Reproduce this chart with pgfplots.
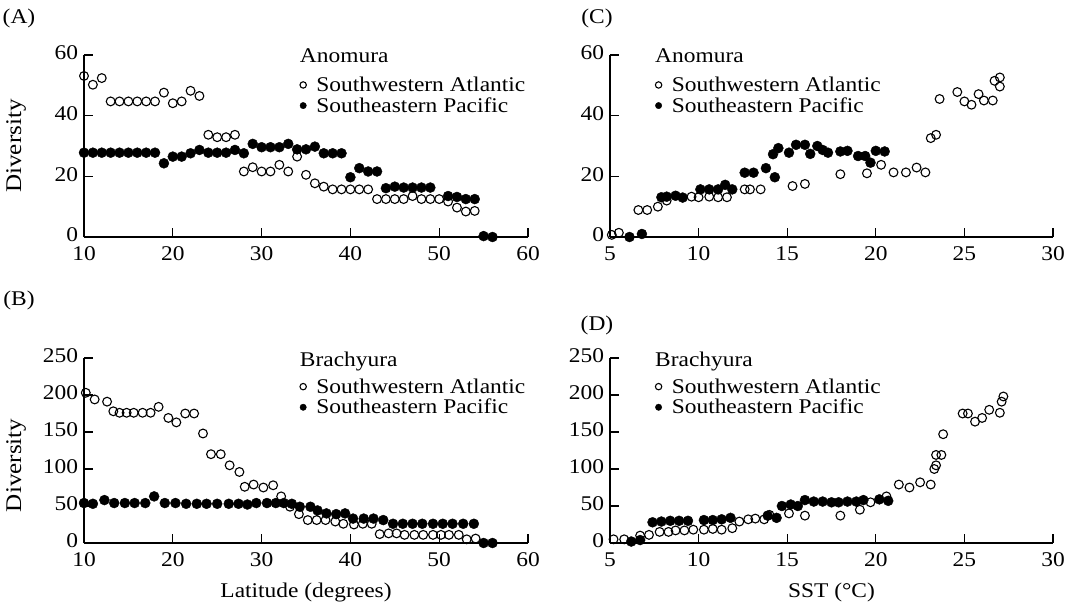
\documentclass[border=0pt]{standalone}
\usepackage{fontspec}
\setmainfont{Liberation Serif}[FakeStretch=1.12]
\usepackage{pgfplots}
\pgfplotsset{compat=1.18}
\newcommand{\fs}{\fontsize{21}{24}\selectfont}
\newcommand{\fl}{\fontsize{22.5}{26}\selectfont}
\pgfplotsset{
 myaxis/.style={
  scale only axis, anchor=south west,
  axis lines=left, axis line style={-, line width=1.1bp},
  tick align=inside, major tick length=9bp, tick style={line width=1.1bp, black},
  clip=false, font=\fs,
  /pgf/number format/assume math mode=true,
  tick label style={font=\fs},
  xticklabel style={yshift=-6bp},
  yticklabel style={xshift=-2.5bp, yshift=2bp},
  ylabel style={at={(axis description cs:-0.153,0.5)}, anchor=center, font=\fl},
  legend cell align=left,
  legend style={draw=none, fill=none, anchor=north west, font=\fs, row sep=2.5bp,
     inner sep=0pt, nodes={inner sep=1bp},
     /tikz/every odd column/.append style={column sep=9bp}},
  legend image code/.code={\draw[##1, mark size=3.2bp] plot coordinates {(0bp,0bp)};},
 },
 openmk/.style={only marks, mark=o, mark size=4.4bp, mark options={line width=1.1bp, draw=black}},
 fillmk/.style={only marks, mark=*, mark size=5bp, mark options={draw=black, fill=black}},
}
\begin{document}
\begin{tikzpicture}
\path[use as bounding box] (0,0) rectangle (1070bp,-606bp);
% (A)
\begin{axis}[myaxis, at={(84bp,-237bp)}, width=444bp, height=182bp,
  xmin=10, xmax=60, ymin=0, ymax=60, xtick={10,20,...,60}, ytick={0,20,40,60},
  ylabel={Diversity},
  legend style={at={(rel axis cs:0.486,0.886)}}]
\addplot[openmk] coordinates {(10,53.1)(11,50.2)(12,52.4)(13,44.7)(14,44.7)(15,44.7)(16,44.7)(17,44.7)(18,44.7)(19,47.6)(20,44.1)(21,44.7)(22,48.2)(23,46.5)(24,33.7)(25,32.9)(26,32.9)(27,33.7)(28,21.6)(29,23.0)(30,21.6)(31,21.6)(32,23.8)(33,21.6)(34,26.5)(35,20.5)(36,17.7)(37,16.6)(38,15.7)(39,15.7)(40,15.7)(41,15.7)(42,15.7)(43,12.5)(44,12.5)(45,12.5)(46,12.5)(47,13.5)(48,12.5)(49,12.5)(50,12.5)(51,11.7)(52,9.7)(53,8.4)(54,8.6)};
\addlegendentry{Southwestern Atlantic}
\addplot[fillmk] coordinates {(10,27.8)(11,27.8)(12,27.8)(13,27.8)(14,27.8)(15,27.8)(16,27.8)(17,27.8)(18,27.8)(19,24.3)(20,26.5)(21,26.5)(22,27.6)(23,28.7)(24,27.8)(25,27.8)(26,27.8)(27,28.7)(28,27.6)(29,30.7)(30,29.6)(31,29.6)(32,29.6)(33,30.7)(34,28.9)(35,28.9)(36,29.8)(37,27.6)(38,27.6)(39,27.6)(40,19.7)(41,22.7)(42,21.6)(43,21.6)(44,16.1)(45,16.6)(46,16.3)(47,16.3)(48,16.3)(49,16.3)(51,13.5)(52,13.2)(53,12.5)(54,12.5)(55,0.3)(56,0)};
\addlegendentry{Southeastern Pacific}
\node[anchor=north west, inner sep=0pt] at (rel axis cs:0.486,1.038) {Anomura};
\end{axis}
% (B)
\begin{axis}[myaxis, at={(84bp,-543bp)}, width=444bp, height=185bp,
  xmin=10, xmax=60, ymin=0, ymax=250, xtick={10,20,...,60}, ytick={0,50,...,250},
  ylabel={Diversity}, xlabel={Latitude (degrees)},
  ylabel style={at={(axis description cs:-0.153,0.42)}},
  xlabel style={at={(axis description cs:0.5,-0.27)}, anchor=center},
  legend style={at={(rel axis cs:0.486,0.895)}}]
\addplot[openmk] coordinates {(10.2,203)(11.2,194)(12.6,191)(13.3,178)(14.0,176)(14.8,176)(15.6,176)(16.6,176)(17.5,176)(18.4,184)(19.5,169)(20.4,163)(21.4,175)(22.4,175)(23.4,148)(24.3,120)(25.4,120)(26.4,105)(27.5,96)(28.1,76)(29.1,79)(30.2,75)(31.3,78)(32.2,63)(33.2,49)(34.2,39)(35.2,31)(36.2,31)(37.2,31)(38.3,29)(39.2,26)(40.4,25)(41.4,26)(42.4,26)(43.3,12)(44.3,13)(45.2,13)(46.1,11)(47.2,11)(48.2,11)(49.3,11)(50.2,11)(51.1,11)(52.2,11)(53.1,5)(54.1,6)};
\addlegendentry{Southwestern Atlantic}
\addplot[fillmk] coordinates {(10,54)(11,53)(12.3,58)(13.4,54)(14.6,54)(15.7,54)(16.9,54)(17.9,63)(19.1,54)(20.3,54)(21.5,53)(22.7,53)(23.8,53)(25,53)(26.3,53)(27.4,53)(28.4,52)(29.4,54)(30.6,54)(31.6,54)(32.5,54)(33.4,53)(34.3,49)(35.5,49)(36.3,44)(37.3,40)(38.4,39)(39.4,40)(40.3,33)(41.5,33)(42.6,33)(43.7,31)(44.8,26)(45.9,26)(47,26)(48.1,26)(49.3,26)(50.4,26)(51.5,26)(52.7,26)(53.9,26)(55,0)(56,0)};
\addlegendentry{Southeastern Pacific}
\node[anchor=north west, inner sep=0pt] at (rel axis cs:0.486,1.032) {Brachyura};
\end{axis}
% (C)
\begin{axis}[myaxis, at={(610bp,-237bp)}, width=443bp, height=182bp,
  xmin=5, xmax=30, ymin=0, ymax=60, xtick={5,10,...,30}, ytick={0,20,40,60},
  legend style={at={(rel axis cs:0.102,0.886)}}]
\addplot[openmk] coordinates {(5.1,0.7)(5.5,1.4)(6.6,8.9)(7.1,8.9)(7.7,10)(8.2,12)(9.6,13.3)(10.0,13.1)(10.6,13.3)(11.1,13.1)(11.6,13.1)(12.6,15.7)(12.9,15.7)(13.5,15.7)(15.3,16.8)(16.0,17.5)(18.0,20.7)(19.5,21)(20.3,23.8)(21.0,21.3)(21.7,21.3)(22.3,22.9)(22.8,21.3)(23.1,32.6)(23.4,33.7)(23.6,45.5)(24.6,47.8)(25.0,44.7)(25.4,43.6)(25.8,47.1)(26.1,45)(26.6,45)(26.7,51.5)(27.0,52.6)(27.0,49.6)};
\addlegendentry{Southwestern Atlantic}
\addplot[fillmk] coordinates {(6.1,0)(6.8,1)(7.9,13.1)(8.2,13.3)(8.7,13.6)(9.1,13.0)(10.1,15.7)(10.6,15.7)(11.1,15.7)(11.5,17.2)(11.9,15.7)(12.6,21.2)(13.1,21.2)(13.8,22.7)(14.3,19.7)(14.2,27.3)(14.5,29.3)(15.1,27.8)(15.5,30.4)(16.0,30.4)(16.3,27.4)(16.7,30)(17.0,28.7)(17.3,27.8)(18.0,28.2)(18.4,28.4)(19.0,26.7)(19.4,26.7)(19.7,24.5)(20.0,28.4)(20.5,28.2)};
\addlegendentry{Southeastern Pacific}
\node[anchor=north west, inner sep=0pt] at (rel axis cs:0.1016,1.038) {Anomura};
\end{axis}
% (D)
\begin{axis}[myaxis, at={(610bp,-543bp)}, width=443bp, height=185bp,
  xmin=5, xmax=30, ymin=0, ymax=250, xtick={5,10,...,30}, ytick={0,50,...,250},
  xlabel={SST (\textdegree C)},
  xlabel style={at={(axis description cs:0.5,-0.27)}, anchor=center},
  legend style={at={(rel axis cs:0.102,0.895)}}]
\addplot[openmk] coordinates {(5.2,5)(5.8,5)(6.7,10)(7.2,11)(7.8,15)(8.3,15)(8.7,17)(9.2,17)(9.7,18)(10.3,18)(10.8,19)(11.3,18)(11.9,20)(12.3,29)(12.8,32)(13.2,33)(13.7,32)(14.0,38)(15.1,40)(16.0,37)(18.0,37)(19.1,45)(19.7,55)(20.6,63)(21.3,79)(21.9,75)(22.5,82)(23.1,79)(23.3,100)(23.4,105)(23.4,119)(23.7,119)(23.8,147)(24.9,175)(25.2,175)(25.6,164)(26.0,169)(26.4,180)(27.0,176)(27.1,191)(27.2,198)};
\addlegendentry{Southwestern Atlantic}
\addplot[fillmk] coordinates {(6.2,2)(6.7,4)(7.4,28)(7.9,29)(8.4,30)(8.9,30)(9.4,30)(10.3,31)(10.8,31)(11.3,32)(11.8,34)(13.9,37)(14.4,34)(14.7,50)(15.2,52)(15.6,50)(16.0,58)(16.5,56)(17.0,56)(17.5,55)(17.9,55)(18.4,56)(18.9,56)(19.3,58)(20.2,59)(20.7,57)};
\addlegendentry{Southeastern Pacific}
\node[anchor=north west, inner sep=0pt] at (rel axis cs:0.1016,1.034) {Brachyura};
\end{axis}
\node[font=\fs] at (19bp,-18bp) {(A)};
\node[font=\fs] at (19bp,-300bp) {(B)};
\node[font=\fs] at (597bp,-18bp) {(C)};
\node[font=\fs] at (597bp,-325bp) {(D)};
\end{tikzpicture}
\end{document}
